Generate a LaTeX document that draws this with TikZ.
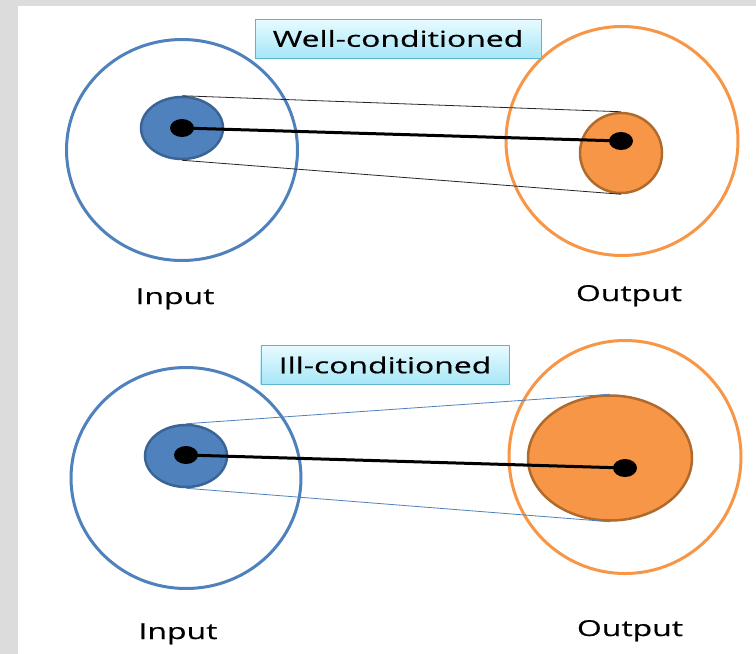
\documentclass[tikz,border=0pt]{standalone}
\usepackage{fontspec}
\newfontfamily\lblfont[FakeStretch=1.45,FakeBold=0.5]{Open Sans}
\usetikzlibrary{positioning,shapes.geometric}
\definecolor{inblue}{HTML}{4F81BD}
\definecolor{inblueedge}{HTML}{3B6496}
\definecolor{outorange}{HTML}{F79646}
\definecolor{outorangeedge}{HTML}{B06A2C}
\definecolor{tagtop}{HTML}{E8FBFF}
\definecolor{tagbot}{HTML}{A6E6F7}
\definecolor{tagedge}{HTML}{5BB8CF}
\definecolor{framegray}{HTML}{DCDCDC}
\tikzset{%
	ring/.style    = {draw, ellipse, line width=3pt, inner sep=0pt}, % big set
	blob/.style    = {draw, ellipse, line width=2.5pt, inner sep=0pt}, % filled set
	dot/.style     = {fill=black, ellipse, inner sep=0pt, minimum width=24pt, minimum height=18pt},
	tag/.style     = {draw=tagedge, rectangle, top color=tagtop, bottom color=tagbot, minimum height=39pt, inner xsep=18pt, font=\lblfont\fontsize{22}{26}\selectfont},
	lbl/.style     = {anchor=base, font=\lblfont\fontsize{22}{26}\selectfont},
	link/.style    = {line width=3pt, line cap=round},
	tangent/.style = {line width=0.8pt},
}

\begin{document}
\begin{tikzpicture}[x=1pt, y=-1pt]
	\fill[framegray] (0,0) rectangle (756,654);
	\fill[white] (18,6) rectangle (756,654);
	\useasboundingbox (0,0) rectangle (756,654);
	
	% well-conditioned
	\node[ring, draw=inblue, minimum width=231pt, minimum height=221pt] (ringinA) at (182,150) {};
	\node[ring, draw=outorange, minimum width=232pt, minimum height=229pt] (ringoutA) at (622,141) {};
	\node[blob, draw=inblueedge, fill=inblue, minimum width=82pt, minimum height=62pt] (inA) at (182,128) {};
	\node[blob, draw=outorangeedge, fill=outorange, minimum width=82pt, minimum height=80pt] (outA) at (621,153) {};
	\node[dot] (dinA) at (182,128) {};
	\node[dot] (doutA) at (621,141) {};
	\draw[tangent, black!85] (inA.north) -- (outA.north);
	\draw[tangent, black!85] (inA.south) -- (outA.south);
	\draw[link] (dinA.center) -- (doutA.center);
	\node[tag] (tagA) at (398,38.5) {Well-conditioned};
	\node[lbl] (inlblA) at (175,304) {Input};
	\node[lbl] (outlblA) at (629,301) {Output};
	
	% ill-conditioned
	\node[ring, draw=inblue, minimum width=230pt, minimum height=221pt] (ringinB) at (186,478) {};
	\node[ring, draw=outorange, minimum width=232pt, minimum height=233pt] (ringoutB) at (625,457) {};
	\node[blob, draw=inblueedge, fill=inblue, minimum width=82pt, minimum height=62pt] (inB) at (186,456) {};
	\node[blob, draw=outorangeedge, fill=outorange, minimum width=164pt, minimum height=125pt] (outB) at (610,458) {};
	\node[dot] (dinB) at (186,455) {};
	\node[dot] (doutB) at (625,468) {};
	\draw[tangent, inblue] (inB.north) -- (outB.north);
	\draw[tangent, inblue] (inB.south) -- (outB.south);
	\draw[link] (dinB.center) -- (doutB.center);
	\node[tag] (tagB) at (385,365) {Ill-conditioned};
	\node[lbl] (inlblB) at (178,639) {Input};
	\node[lbl] (outlblB) at (630,636) {Output};
\end{tikzpicture}
\end{document}
